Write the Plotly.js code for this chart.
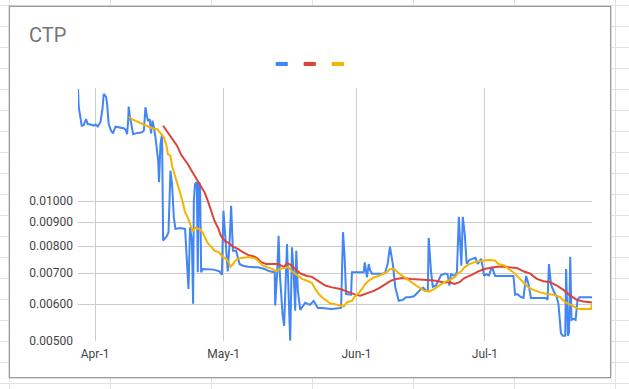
<!DOCTYPE html>
<html>
<head>
<meta charset="utf-8">
<script src="https://cdn.plot.ly/plotly-3.0.1.min.js"></script>
<style>
  html, body { margin: 0; padding: 0; width: 629px; height: 389px; overflow: hidden; }
  body {
    background-color: #ffffff;
    background-image:
      linear-gradient(to right, #e2e2e2 1px, transparent 1px),
      linear-gradient(to bottom, #e2e2e2 1px, transparent 1px);
    background-size: 101px 100%, 100% 21px;
    background-position: 110px 0, 0 5px;
    position: relative;
  }
  #box {
    position: absolute; left: 9px; top: 6px; width: 600px; height: 370px;
    background: #ffffff; border: 1px solid #9a9a9a; box-shadow: 0 0 0 0.5px #bdbdbd;
  }
  #chart { position: absolute; left: 0; top: 0; width: 629px; height: 389px; }
</style>
</head>
<body>
<div id="box"></div>
<div id="chart"></div>
<script>
// ---- data ----
const blueDates = [
 "2021-03-28 00:00","2021-03-28 04:00","2021-03-28 21:00","2021-03-29 08:00","2021-03-29 21:00","2021-03-30 06:00",
 "2021-03-30 23:00","2021-03-31 16:00","2021-04-01 03:00","2021-04-01 15:00","2021-04-02 06:00","2021-04-02 17:00",
 "2021-04-03 00:00","2021-04-03 13:00","2021-04-03 19:00","2021-04-04 04:00","2021-04-04 17:00","2021-04-05 04:00",
 "2021-04-05 18:00","2021-04-06 07:00","2021-04-06 23:00","2021-04-07 16:00","2021-04-08 04:00","2021-04-08 11:00",
 "2021-04-08 17:00","2021-04-08 20:00","2021-04-09 02:00","2021-04-09 12:00","2021-04-09 21:00","2021-04-10 12:00",
 "2021-04-11 05:00","2021-04-11 23:00","2021-04-12 09:00","2021-04-12 18:00","2021-04-13 03:00","2021-04-13 09:00",
 "2021-04-13 18:00","2021-04-14 01:00","2021-04-14 09:00","2021-04-14 17:00","2021-04-15 02:00","2021-04-15 10:00",
 "2021-04-15 17:00","2021-04-15 22:00","2021-04-16 06:00","2021-04-16 15:00","2021-04-16 21:00","2021-04-17 05:00",
 "2021-04-17 19:00","2021-04-18 03:00","2021-04-18 14:00","2021-04-18 23:00","2021-04-19 09:00","2021-04-19 18:00",
 "2021-04-20 18:00","2021-04-22 00:00","2021-04-22 12:00","2021-04-22 19:00","2021-04-23 04:00","2021-04-23 14:00",
 "2021-04-23 21:00","2021-04-24 01:00","2021-04-24 08:00","2021-04-24 18:00","2021-04-24 23:00","2021-04-25 05:00",
 "2021-04-25 12:00","2021-04-25 18:00","2021-04-26 04:00","2021-04-27 07:00","2021-04-28 17:00","2021-04-30 01:00",
 "2021-04-30 14:00","2021-04-30 23:00","2021-05-01 09:00","2021-05-01 23:00","2021-05-02 09:00","2021-05-02 18:00",
 "2021-05-03 04:00","2021-05-03 22:00","2021-05-04 17:00","2021-05-05 12:00","2021-05-06 16:00","2021-05-07 20:00",
 "2021-05-09 00:00","2021-05-10 14:00","2021-05-11 18:00","2021-05-12 22:00","2021-05-13 01:00","2021-05-13 12:00",
 "2021-05-13 20:00","2021-05-14 02:00","2021-05-14 11:00","2021-05-14 18:00","2021-05-15 03:00","2021-05-15 09:00",
 "2021-05-15 19:00","2021-05-16 04:00","2021-05-16 13:00","2021-05-16 23:00","2021-05-17 08:00","2021-05-17 17:00",
 "2021-05-17 23:00","2021-05-18 08:00","2021-05-18 21:00","2021-05-20 01:00","2021-05-21 04:00","2021-05-22 00:00",
 "2021-05-22 09:00","2021-05-23 00:00","2021-05-23 23:00","2021-05-26 03:00","2021-05-28 10:00","2021-05-28 21:00",
 "2021-05-29 06:00","2021-05-29 14:00","2021-05-30 18:00","2021-05-30 23:00","2021-06-02 17:00","2021-06-02 23:00",
 "2021-06-03 11:00","2021-06-03 21:00","2021-06-04 04:00","2021-06-04 15:00","2021-06-06 23:00","2021-06-07 16:00",
 "2021-06-08 07:00","2021-06-08 20:00","2021-06-09 12:00","2021-06-10 02:00","2021-06-10 21:00","2021-06-11 20:00",
 "2021-06-12 14:00","2021-06-13 09:00","2021-06-14 11:00","2021-06-14 22:00","2021-06-15 11:00","2021-06-16 02:00",
 "2021-06-16 15:00","2021-06-17 06:00","2021-06-17 16:00","2021-06-17 21:00","2021-06-18 10:00","2021-06-18 20:00",
 "2021-06-19 14:00","2021-06-20 09:00","2021-06-20 18:00","2021-06-21 18:00","2021-06-22 07:00","2021-06-22 17:00",
 "2021-06-23 02:00","2021-06-23 21:00","2021-06-24 11:00","2021-06-24 22:00","2021-06-25 05:00","2021-06-25 12:00",
 "2021-06-25 20:00","2021-06-26 07:00","2021-06-26 18:00","2021-06-27 06:00","2021-06-28 00:00","2021-06-28 19:00",
 "2021-06-29 08:00","2021-06-30 03:00","2021-06-30 12:00","2021-06-30 19:00","2021-07-01 07:00","2021-07-01 23:00",
 "2021-07-02 15:00","2021-07-03 09:00","2021-07-07 16:00","2021-07-08 01:00","2021-07-08 14:00","2021-07-09 06:00",
 "2021-07-10 00:00","2021-07-10 15:00","2021-07-11 04:00","2021-07-11 18:00","2021-07-15 07:00","2021-07-15 15:00",
 "2021-07-15 23:00","2021-07-16 10:00","2021-07-17 00:00","2021-07-17 19:00","2021-07-18 04:00","2021-07-18 18:00",
 "2021-07-19 05:00","2021-07-19 18:00","2021-07-19 23:00","2021-07-20 09:00","2021-07-20 15:00","2021-07-20 22:00",
 "2021-07-21 05:00","2021-07-21 17:00","2021-07-22 04:00","2021-07-22 15:00","2021-07-23 02:00","2021-07-26 00:00"
];
const blueValues = [
 0.01742,0.01593,0.01452,0.01456,0.01501,0.01464,
 0.01460,0.01452,0.01460,0.01446,0.01479,0.01577,
 0.01699,0.01677,0.01617,0.01464,0.01417,0.01398,
 0.01445,0.01441,0.01436,0.01434,0.01422,0.01392,
 0.01488,0.01596,0.01526,0.01441,0.01392,0.01398,
 0.01402,0.01405,0.01417,0.01591,0.01514,0.01486,
 0.01501,0.01398,0.01488,0.01444,0.01371,0.01287,
 0.01225,0.01097,0.01326,0.01392,0.00822,0.00829,
 0.00842,0.00857,0.01162,0.01088,0.00922,0.00871,
 0.00875,0.00871,0.00744,0.00647,0.00878,0.00822,
 0.00601,0.01002,0.01088,0.01097,0.00703,0.01097,
 0.01088,0.00703,0.00714,0.00714,0.00712,0.00706,
 0.00693,0.00953,0.00822,0.00706,0.00808,0.00977,
 0.00782,0.00782,0.00732,0.00726,0.00722,0.00722,
 0.00720,0.00714,0.00706,0.00703,0.00596,0.00706,
 0.00842,0.00706,0.00621,0.00572,0.00539,0.00641,
 0.00808,0.00631,0.00501,0.00795,0.00706,0.00581,
 0.00782,0.00641,0.00583,0.00604,0.00598,0.00610,
 0.00601,0.00589,0.00589,0.00586,0.00589,0.00857,
 0.00757,0.00631,0.00629,0.00703,0.00703,0.00738,
 0.00685,0.00732,0.00711,0.00698,0.00698,0.00699,
 0.00732,0.00798,0.00732,0.00652,0.00610,0.00613,
 0.00621,0.00621,0.00624,0.00631,0.00637,0.00647,
 0.00651,0.00641,0.00640,0.00833,0.00706,0.00654,
 0.00658,0.00680,0.00693,0.00698,0.00696,0.00658,
 0.00696,0.00690,0.00703,0.00925,0.00795,0.00726,
 0.00925,0.00849,0.00732,0.00745,0.00751,0.00755,
 0.00732,0.00751,0.00720,0.00690,0.00696,0.00692,
 0.00722,0.00690,0.00690,0.00629,0.00631,0.00623,
 0.00619,0.00690,0.00663,0.00619,0.00619,0.00613,
 0.00732,0.00663,0.00641,0.00621,0.00601,0.00519,
 0.00513,0.00513,0.00714,0.00513,0.00521,0.00759,
 0.00555,0.00558,0.00555,0.00613,0.00621,0.00621
];

const redDates = [
 "2021-04-16 21:00","2021-04-17 16:00","2021-04-18 05:00","2021-04-18 18:00","2021-04-19 09:00","2021-04-20 03:00",
 "2021-04-21 02:00","2021-04-21 21:00","2021-04-22 15:00","2021-04-23 10:00","2021-04-24 05:00","2021-04-24 23:00",
 "2021-04-25 18:00","2021-04-26 13:00","2021-04-27 07:00","2021-04-28 02:00","2021-04-28 21:00","2021-04-29 16:00",
 "2021-04-30 10:00","2021-05-01 05:00","2021-05-01 23:00","2021-05-03 04:00","2021-05-04 08:00","2021-05-05 12:00",
 "2021-05-06 16:00","2021-05-08 06:00","2021-05-09 00:00","2021-05-09 18:00","2021-05-10 23:00","2021-05-12 12:00",
 "2021-05-13 16:00","2021-05-15 02:00","2021-05-15 19:00","2021-05-16 13:00","2021-05-17 17:00","2021-05-18 21:00",
 "2021-05-20 11:00","2021-05-21 15:00","2021-05-23 05:00","2021-05-24 18:00","2021-05-26 07:00","2021-05-28 06:00",
 "2021-05-29 10:00","2021-05-30 14:00","2021-05-31 18:00","2021-06-01 22:00","2021-06-03 02:00","2021-06-04 00:00",
 "2021-06-05 01:00","2021-06-06 05:00","2021-06-07 09:00","2021-06-08 09:00","2021-06-09 02:00","2021-06-10 06:00",
 "2021-06-11 20:00","2021-06-13 18:00","2021-06-15 17:00","2021-06-17 16:00","2021-06-19 14:00","2021-06-21 04:00",
 "2021-06-22 17:00","2021-06-23 21:00","2021-06-25 01:00","2021-06-26 05:00","2021-06-27 19:00","2021-06-29 08:00",
 "2021-06-30 21:00","2021-07-02 05:00","2021-07-03 19:00","2021-07-05 08:00","2021-07-06 21:00","2021-07-08 11:00",
 "2021-07-10 00:00","2021-07-11 14:00","2021-07-13 03:00","2021-07-14 16:00","2021-07-16 06:00","2021-07-17 19:00",
 "2021-07-19 08:00","2021-07-20 22:00","2021-07-22 12:00","2021-07-24 00:00","2021-07-25 14:00","2021-07-26 00:00"
];
const redValues = [
 0.01452,0.01417,0.01392,0.01366,0.01344,0.01315,
 0.01257,0.01231,0.01201,0.01166,0.01134,0.01106,
 0.01079,0.01044,0.01002,0.00953,0.00906,0.00876,
 0.00840,0.00822,0.00815,0.00798,0.00789,0.00776,
 0.00766,0.00759,0.00751,0.00739,0.00732,0.00732,
 0.00732,0.00722,0.00735,0.00730,0.00714,0.00699,
 0.00690,0.00687,0.00672,0.00658,0.00652,0.00647,
 0.00641,0.00634,0.00629,0.00626,0.00631,0.00637,
 0.00641,0.00649,0.00658,0.00666,0.00674,0.00680,
 0.00683,0.00680,0.00677,0.00676,0.00674,0.00669,
 0.00669,0.00663,0.00669,0.00683,0.00693,0.00705,
 0.00714,0.00717,0.00722,0.00722,0.00720,0.00718,
 0.00706,0.00698,0.00680,0.00672,0.00669,0.00658,
 0.00644,0.00626,0.00613,0.00608,0.00606,0.00605
];

const yellowDates = [
 "2021-04-08 20:00","2021-04-09 21:00","2021-04-11 05:00","2021-04-12 09:00","2021-04-13 03:00","2021-04-14 07:00",
 "2021-04-15 11:00","2021-04-15 21:00","2021-04-16 10:00","2021-04-17 01:00","2021-04-17 16:00","2021-04-17 23:00",
 "2021-04-18 14:00","2021-04-18 23:00","2021-04-19 18:00","2021-04-20 06:00","2021-04-20 22:00","2021-04-21 11:00",
 "2021-04-22 00:00","2021-04-22 15:00","2021-04-23 06:00","2021-04-23 19:00","2021-04-24 08:00","2021-04-24 23:00",
 "2021-04-25 15:00","2021-04-26 04:00","2021-04-26 17:00","2021-04-27 07:00","2021-04-28 02:00","2021-04-28 21:00",
 "2021-04-29 20:00","2021-04-30 20:00","2021-05-01 14:00","2021-05-02 04:00","2021-05-02 15:00","2021-05-03 04:00",
 "2021-05-04 04:00","2021-05-05 12:00","2021-05-07 01:00","2021-05-08 14:00","2021-05-09 10:00","2021-05-10 04:00",
 "2021-05-11 08:00","2021-05-12 12:00","2021-05-13 07:00","2021-05-14 02:00","2021-05-15 02:00","2021-05-16 04:00",
 "2021-05-16 23:00","2021-05-17 17:00","2021-05-18 12:00","2021-05-19 07:00","2021-05-20 11:00","2021-05-21 15:00",
 "2021-05-22 09:00","2021-05-23 05:00","2021-05-23 23:00","2021-05-25 03:00","2021-05-25 22:00","2021-05-27 01:00",
 "2021-05-28 06:00","2021-05-29 01:00","2021-05-29 19:00","2021-05-30 23:00","2021-05-31 18:00","2021-06-01 13:00",
 "2021-06-02 07:00","2021-06-03 02:00","2021-06-03 21:00","2021-06-05 01:00","2021-06-06 05:00","2021-06-07 09:00",
 "2021-06-08 09:00","2021-06-08 20:00","2021-06-09 20:00","2021-06-11 00:00","2021-06-12 05:00","2021-06-13 09:00",
 "2021-06-14 13:00","2021-06-15 17:00","2021-06-16 21:00","2021-06-18 01:00","2021-06-19 05:00","2021-06-20 09:00",
 "2021-06-21 13:00","2021-06-22 17:00","2021-06-23 21:00","2021-06-24 16:00","2021-06-25 11:00","2021-06-26 05:00",
 "2021-06-27 09:00","2021-06-28 13:00","2021-06-29 17:00","2021-06-30 21:00","2021-07-02 01:00","2021-07-03 09:00",
 "2021-07-04 04:00","2021-07-05 17:00","2021-07-06 12:00","2021-07-07 16:00","2021-07-08 20:00","2021-07-10 00:00",
 "2021-07-11 04:00","2021-07-12 08:00","2021-07-13 22:00","2021-07-15 11:00","2021-07-17 00:00","2021-07-18 14:00",
 "2021-07-19 18:00","2021-07-20 22:00","2021-07-22 02:00","2021-07-22 20:00","2021-07-25 19:00","2021-07-26 00:00"
];
const yellowValues = [
 0.01518,0.01494,0.01477,0.01460,0.01446,0.01434,
 0.01429,0.01413,0.01389,0.01371,0.01315,0.01262,
 0.01252,0.01191,0.01125,0.01090,0.01035,0.00994,
 0.00946,0.00922,0.00885,0.00860,0.00877,0.00872,
 0.00867,0.00853,0.00832,0.00812,0.00798,0.00782,
 0.00776,0.00759,0.00751,0.00739,0.00722,0.00732,
 0.00751,0.00755,0.00758,0.00751,0.00739,0.00726,
 0.00720,0.00714,0.00706,0.00714,0.00718,0.00720,
 0.00706,0.00698,0.00690,0.00680,0.00674,0.00666,
 0.00647,0.00631,0.00621,0.00610,0.00602,0.00600,
 0.00597,0.00593,0.00606,0.00610,0.00626,0.00634,
 0.00647,0.00663,0.00674,0.00685,0.00690,0.00698,
 0.00706,0.00714,0.00714,0.00698,0.00685,0.00674,
 0.00663,0.00651,0.00641,0.00639,0.00647,0.00658,
 0.00669,0.00676,0.00685,0.00698,0.00706,0.00720,
 0.00732,0.00739,0.00743,0.00745,0.00747,0.00745,
 0.00732,0.00726,0.00714,0.00703,0.00685,0.00669,
 0.00652,0.00644,0.00636,0.00631,0.00629,0.00621,
 0.00606,0.00599,0.00592,0.00586,0.00586,0.00604
];

const xTickVals = ["2021-04-01", "2021-05-01", "2021-06-01", "2021-07-01"];
const xTickText = ["Apr-1", "May-1", "Jun-1", "Jul-1"];
const yTickVals = [0.005, 0.006, 0.007, 0.008, 0.009, 0.010];
const yTickText = ["0.00500", "0.00600", "0.00700", "0.00800", "0.00900", "0.01000"];
const xRange = ["2021-03-28", "2021-07-26"];
const yRange = [0.005, 0.0175];
const seriesColors = ["#4285F4", "#DB4437", "#F4B400"];

// ---- chart ----
const traces = [
  { x: blueDates, y: blueValues, type: "scatter", mode: "lines", name: "",
    line: { color: seriesColors[0], width: 2 }, hoverinfo: "skip" },
  { x: redDates, y: redValues, type: "scatter", mode: "lines", name: "",
    line: { color: seriesColors[1], width: 2 }, hoverinfo: "skip" },
  { x: yellowDates, y: yellowValues, type: "scatter", mode: "lines", name: "",
    line: { color: seriesColors[2], width: 2 }, hoverinfo: "skip" }
];

// legend swatches (no series names in the source)
const swatchX = [[0.3846, 0.4082], [0.4391, 0.4627], [0.4938, 0.5174]];
const shapes = swatchX.map((sx, i) => ({
  type: "rect", xref: "paper", yref: "paper",
  x0: sx[0], x1: sx[1], y0: 1.087, y1: 1.103,
  fillcolor: seriesColors[i], line: { width: 0 }
}));

const font = "Roboto, Arial, sans-serif";
const layout = {
  width: 629, height: 389,
  margin: { l: 78, r: 37, t: 88, b: 48, pad: 0 },
  paper_bgcolor: "rgba(0,0,0,0)",
  plot_bgcolor: "rgba(0,0,0,0)",
  showlegend: false,
  title: {
    text: "CTP", xref: "container", yref: "container",
    x: 29 / 629, xanchor: "left", y: 1 - 35 / 389, yanchor: "middle",
    font: { family: font, size: 20, color: "#757575" }
  },
  xaxis: {
    type: "date", range: xRange,
    tickmode: "array", tickvals: xTickVals, ticktext: xTickText,
    showgrid: true, gridcolor: "#cccccc", gridwidth: 1,
    zeroline: false, showline: false, ticks: "",
    tickfont: { family: font, size: 12, color: "#444444" },
    ticklabelstandoff: 4
  },
  yaxis: {
    type: "log",
    range: [Math.log10(yRange[0]), Math.log10(yRange[1])],
    tickmode: "array", tickvals: yTickVals, ticktext: yTickText,
    showgrid: true, gridcolor: "#cccccc", gridwidth: 1,
    zeroline: false, showline: false, ticks: "",
    tickfont: { family: font, size: 12, color: "#444444" },
    ticklabelstandoff: 4
  },
  shapes: shapes
};

Plotly.newPlot("chart", traces, layout, { staticPlot: true, displayModeBar: false });
</script>
</body>
</html>
